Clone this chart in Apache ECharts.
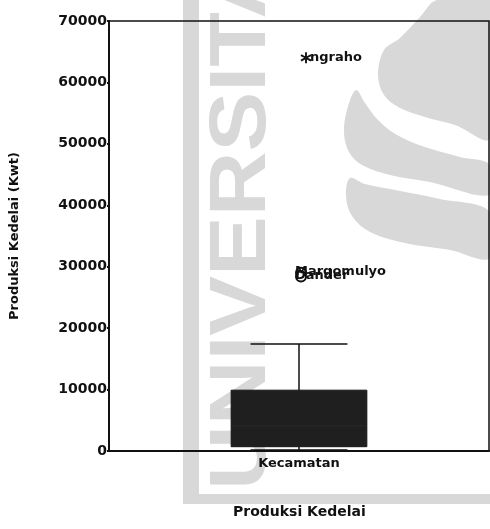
<!DOCTYPE html>
<html>
<head>
<meta charset="utf-8">
<style>
  html, body { margin: 0; padding: 0; background: #fff; }
  #chart { width: 490px; height: 529px; }
</style>
<script src="https://cdn.jsdelivr.net/npm/echarts@6/dist/echarts.min.js"></script>
</head>
<body>
<div id="chart"></div>
<script>
// Box plot of soybean production per kecamatan
const categories = ['Kecamatan'];
// [min, Q1, median, Q3, max]
const boxStats = [[150, 700, 4100, 9900, 17400]];
// outliers: [name, value]
const outlierNames = ['Margomulyo', 'Dander'];
const outlierValues = [29000, 28400];
const extremeNames = ['ngraho'];
const extremeValues = [64000];
const yTicks = [0, 10000, 20000, 30000, 40000, 50000, 60000, 70000];

const FONT = 'DejaVu Sans';
const INK = '#111';
const WATERMARK = '#d8d8d8';
const chart = echarts.init(document.getElementById('chart'), null, { renderer: 'canvas' });

const asterisk = 'path://M4.2,0H5.8V3.6L8.9,1.8L9.7,3.2L6.6,5L9.7,6.8L8.9,8.2L5.8,6.4V10H4.2V6.4L1.1,8.2L0.3,6.8L3.4,5L0.3,3.2L1.1,1.8L4.2,3.6Z';

const labelStyle = {
  show: true, position: 'inside', align: 'left',
  formatter: p => p.name,
  color: INK, opacity: 1, fontFamily: FONT, fontWeight: 'bold', fontSize: 13
};

// pale emblem shapes in the page background
const stampShape = (points) => ({
  type: 'polygon', z: -10, silent: true,
  shape: { points: points, smooth: 0.35 },
  style: { fill: WATERMARK }
});

chart.setOption({
  animation: false,
  backgroundColor: '#fff',
  graphic: [
    { type: 'rect', z: -10, silent: true, shape: { x: 183, y: 0, width: 16, height: 503 }, style: { fill: WATERMARK } },
    { type: 'rect', z: -10, silent: true, shape: { x: 183, y: 494, width: 307, height: 10 }, style: { fill: WATERMARK } },
    {
      type: 'text', z: -10, silent: true,
      x: 243, y: 490, rotation: Math.PI / 2, scaleX: 1.12,
      style: { text: 'UNIVERSITAS', fill: WATERMARK, font: 'bold 80px "Liberation Sans"', verticalAlign: 'middle' }
    },
    stampShape([[437, 0], [420, 17], [400, 38], [384, 50], [378, 75], [384, 95], [400, 108], [425, 117], [455, 125], [490, 138], [490, 0]]),
    stampShape([[356, 90], [347, 110], [344, 133], [349, 152], [362, 165], [390, 175], [430, 182], [490, 195], [490, 165], [460, 157], [425, 147], [397, 135], [378, 120], [365, 103]]),
    stampShape([[350, 178], [346, 196], [352, 216], [370, 232], [405, 243], [450, 250], [490, 258], [490, 212], [440, 199], [395, 190], [365, 184]]),
    {
      type: 'text', left: 233, top: 505,
      style: { text: 'Produksi Kedelai', fill: INK, font: 'bold 14px "' + FONT + '"' }
    }
  ],
  grid: {
    left: 108, right: 1, top: 21, bottom: 78,
    show: true, borderColor: INK, borderWidth: 1.5,
    backgroundColor: 'transparent'
  },
  xAxis: {
    type: 'category',
    data: categories,
    axisLine: { lineStyle: { color: INK, width: 2 } },
    axisTick: { alignWithLabel: true, length: 3, lineStyle: { color: INK } },
    axisLabel: { color: INK, fontFamily: FONT, fontWeight: 'bold', fontSize: 13, margin: 6 },
    splitLine: { show: false }
  },
  yAxis: {
    type: 'value',
    min: 0, max: 70000, interval: 10000,
    name: 'Produksi Kedelai (Kwt)',
    nameLocation: 'middle',
    nameGap: 88,
    nameTextStyle: { color: INK, fontFamily: FONT, fontWeight: 'bold', fontSize: 13 },
    axisLine: { show: true, lineStyle: { color: INK, width: 2 } },
    axisTick: { show: true, length: 2, lineStyle: { color: INK, width: 2 } },
    axisLabel: {
      color: INK, fontFamily: FONT, fontWeight: 'bold', fontSize: 14, margin: 2,
      formatter: v => yTicks.includes(v) ? String(v) : ''
    },
    splitLine: { show: false }
  },
  series: [{
    type: 'custom',
    data: boxStats.map((s, i) => [i].concat(s)),
    encode: { x: 0, y: [1, 2, 3, 4, 5] },
    renderItem: function (params, api) {
      const x = api.value(0);
      const c = i => api.coord([x, api.value(i)]);
      const pMin = c(1), pQ1 = c(2), pMed = c(3), pQ3 = c(4), pMax = c(5);
      const band = api.size([1, 0])[0];
      const boxW = band * 0.357;
      const capW = band * 0.255;
      const cx = pMin[0];
      const line = (x1, y1, x2, y2, color) => ({
        type: 'line',
        shape: { x1, y1, x2, y2 },
        style: { stroke: color || INK, lineWidth: 1.5 }
      });
      return {
        type: 'group',
        children: [
          line(cx, pQ3[1], cx, pMax[1]),
          line(cx - capW / 2, pMax[1], cx + capW / 2, pMax[1]),
          line(cx, pQ1[1], cx, pMin[1]),
          line(cx - capW / 2, pMin[1], cx + capW / 2, pMin[1]),
          {
            type: 'rect',
            shape: { x: cx - boxW / 2, y: pQ3[1], width: boxW, height: pQ1[1] - pQ3[1] },
            style: { fill: '#1f1f1f', stroke: '#151515', lineWidth: 1 }
          },
          line(cx - boxW / 2 + 1, pMed[1], cx + boxW / 2 - 1, pMed[1], '#262626')
        ]
      };
    },
    z: 2
  }, {
    type: 'scatter',
    data: outlierValues.map((v, i) => ({ value: [0, v], name: outlierNames[i] })),
    symbol: 'emptyCircle',
    symbolSize: 10,
    symbolOffset: [2, 0],
    itemStyle: { color: INK, borderColor: INK, borderWidth: 2.5, opacity: 1 },
    label: Object.assign({}, labelStyle, { offset: [-6, -1] }),
    emphasis: { disabled: true },
    z: 3
  }, {
    type: 'scatter',
    data: extremeValues.map((v, i) => ({ value: [0, v], name: extremeNames[i] })),
    symbol: asterisk,
    symbolSize: 11,
    symbolOffset: [7, 0],
    itemStyle: { color: INK, opacity: 1 },
    label: Object.assign({}, labelStyle, { offset: [4, 0] }),
    emphasis: { disabled: true },
    z: 3
  }]
});
</script>
</body>
</html>
